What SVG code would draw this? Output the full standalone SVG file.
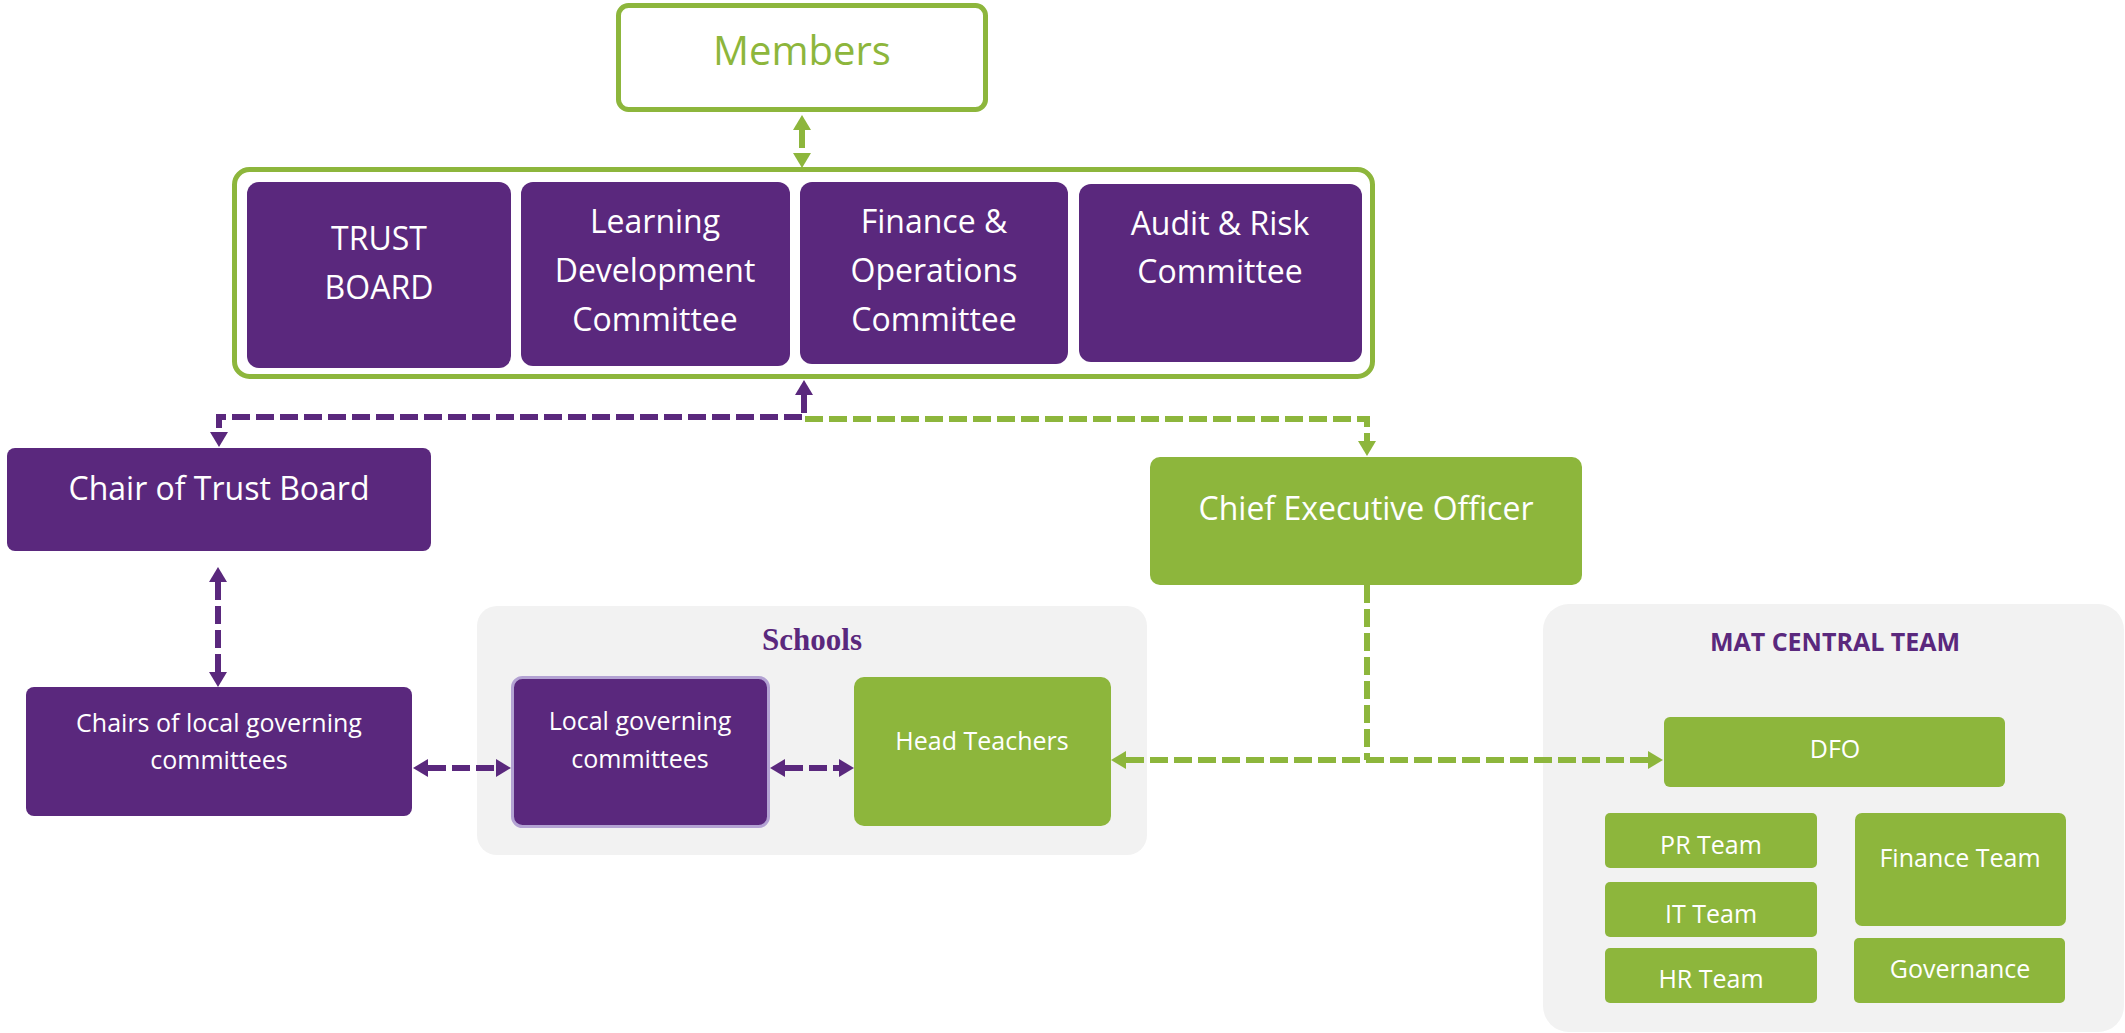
<svg xmlns="http://www.w3.org/2000/svg" width="2125" height="1033" viewBox="0 0 2125 1033">
  <style>
    .purple { fill: #5A287D; }
    .green { fill: #8DB63C; }
    .panel { fill: #F2F2F2; }
    .t { font-family: "Open Sans", "Liberation Sans", sans-serif; fill: #FFFFFF; text-anchor: middle; }
    .big { font-size: 32px; }
    .mid { font-size: 25px; }
    .lp { stroke: #5A287D; stroke-width: 6; fill: none; stroke-dasharray: 18 6; }
    .lg { stroke: #8DB63C; stroke-width: 6; fill: none; stroke-dasharray: 18 6; }
  </style>
  <defs>
    <marker id="ap" viewBox="0 0 15 18" refX="0" refY="9" markerWidth="15" markerHeight="18" markerUnits="userSpaceOnUse" orient="auto-start-reverse">
      <path d="M0,0 L15,9 L0,18 Z" fill="#5A287D"/>
    </marker>
    <marker id="ag" viewBox="0 0 15 18" refX="0" refY="9" markerWidth="15" markerHeight="18" markerUnits="userSpaceOnUse" orient="auto-start-reverse">
      <path d="M0,0 L15,9 L0,18 Z" fill="#8DB63C"/>
    </marker>
  </defs>

  <rect width="2125" height="1033" fill="#FFFFFF"/>

  <!-- background panels -->
  <g id="schools">
    <rect class="panel" x="477" y="606" width="670" height="249" rx="20"/>
    <text x="812" y="650" font-family="'Liberation Serif', serif" font-weight="bold" font-size="31" fill="#5A287D" text-anchor="middle">Schools</text>
  </g>
  <g id="mat-central-team">
    <rect class="panel" x="1543" y="604" width="581" height="428" rx="26"/>
    <text x="1835" y="651" font-family="'Open Sans', 'Liberation Sans', sans-serif" font-weight="bold" font-size="25" fill="#5A287D" text-anchor="middle">MAT CENTRAL TEAM</text>
  </g>

  <!-- nodes -->
  <g id="members">
    <rect x="618.5" y="5.5" width="367" height="104" rx="10" fill="#FFFFFF" stroke="#8DB63C" stroke-width="5"/>
    <text x="802" y="65" font-family="'Open Sans', 'Liberation Sans', sans-serif" font-size="40" fill="#8DB63C" text-anchor="middle">Members</text>
  </g>

  <g id="board-group">
    <rect x="234.5" y="169.5" width="1138" height="207" rx="15" fill="#FFFFFF" stroke="#8DB63C" stroke-width="5"/>
  </g>
  <g id="trust-board">
    <rect class="purple" x="247" y="182" width="264" height="186" rx="12"/>
    <text class="t big" x="379" y="250">TRUST</text>
    <text class="t big" x="379" y="299">BOARD</text>
  </g>
  <g id="learning-development">
    <rect class="purple" x="521" y="182" width="269" height="184" rx="12"/>
    <text class="t big" x="655" y="233">Learning</text>
    <text class="t big" x="655" y="282">Development</text>
    <text class="t big" x="655" y="331">Committee</text>
  </g>
  <g id="finance-operations">
    <rect class="purple" x="800" y="182" width="268" height="182" rx="12"/>
    <text class="t big" x="934" y="233">Finance &amp;</text>
    <text class="t big" x="934" y="282">Operations</text>
    <text class="t big" x="934" y="331">Committee</text>
  </g>
  <g id="audit-risk">
    <rect class="purple" x="1079" y="184" width="283" height="178" rx="12"/>
    <text class="t big" x="1220" y="235">Audit &amp; Risk</text>
    <text class="t big" x="1220" y="283">Committee</text>
  </g>

  <g id="chair-trust-board">
    <rect class="purple" x="7" y="448" width="424" height="103" rx="8"/>
    <text class="t big" x="219" y="500">Chair of Trust Board</text>
  </g>

  <g id="ceo">
    <rect class="green" x="1150" y="457" width="432" height="128" rx="10"/>
    <text class="t big" x="1366" y="520">Chief Executive Officer</text>
  </g>

  <g id="chairs-lgc">
    <rect class="purple" x="26" y="687" width="386" height="129" rx="8"/>
    <text class="t mid" x="219" y="732">Chairs of local governing</text>
    <text class="t mid" x="219" y="769">committees</text>
  </g>

  <g id="local-governing">
    <rect class="purple" x="512.5" y="677.5" width="256" height="149" rx="10" stroke="#B3A2D3" stroke-width="3"/>
    <text class="t mid" x="640" y="730">Local governing</text>
    <text class="t mid" x="640" y="768">committees</text>
  </g>

  <g id="head-teachers">
    <rect class="green" x="854" y="677" width="257" height="149" rx="10"/>
    <text class="t mid" x="982" y="750">Head Teachers</text>
  </g>

  <g id="dfo">
    <rect class="green" x="1664" y="717" width="341" height="70" rx="6"/>
    <text class="t mid" x="1835" y="758">DFO</text>
  </g>
  <g id="pr-team">
    <rect class="green" x="1605" y="813" width="212" height="55" rx="5"/>
    <text class="t mid" x="1711" y="854">PR Team</text>
  </g>
  <g id="it-team">
    <rect class="green" x="1605" y="882" width="212" height="55" rx="5"/>
    <text class="t mid" x="1711" y="923">IT Team</text>
  </g>
  <g id="hr-team">
    <rect class="green" x="1605" y="948" width="212" height="55" rx="5"/>
    <text class="t mid" x="1711" y="988">HR Team</text>
  </g>
  <g id="finance-team">
    <rect class="green" x="1855" y="813" width="211" height="113" rx="7"/>
    <text class="t mid" x="1960" y="867">Finance Team</text>
  </g>
  <g id="governance">
    <rect class="green" x="1854" y="938" width="211" height="65" rx="5"/>
    <text class="t mid" x="1960" y="978">Governance</text>
  </g>

  <!-- connectors -->
  <g id="connectors">
    <path class="lg" d="M802 130 V153" marker-start="url(#ag)" marker-end="url(#ag)"/>
    <path class="lp" d="M804 395 V417 H219 V432" marker-start="url(#ap)" marker-end="url(#ap)"/>
    <path class="lg" d="M805 419 H1367 V441" marker-end="url(#ag)"/>
    <path class="lp" d="M218 582 V672" marker-start="url(#ap)" marker-end="url(#ap)"/>
    <path class="lp" d="M428 768 H496" marker-start="url(#ap)" marker-end="url(#ap)"/>
    <path class="lp" d="M785 768 H839" marker-start="url(#ap)" marker-end="url(#ap)"/>
    <path class="lg" d="M1367 585 V760"/>
    <path class="lg" d="M1126 760 H1648" marker-start="url(#ag)" marker-end="url(#ag)"/>
  </g>
</svg>
